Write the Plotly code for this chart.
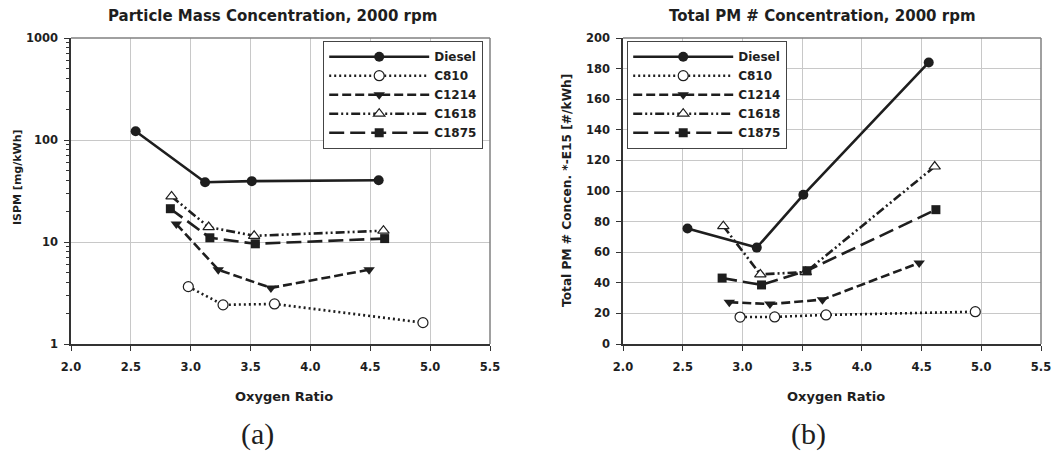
import plotly.graph_objects as go

# ---- data ----
series_names = ["Diesel", "C810", "C1214", "C1618", "C1875"]

# (a) Particle mass concentration [mg/kWh]
a_x = {
    "Diesel": [2.54, 3.12, 3.51, 4.57],
    "C810": [2.98, 3.27, 3.70, 4.94],
    "C1214": [2.88, 3.23, 3.67, 4.49],
    "C1618": [2.84, 3.15, 3.53, 4.61],
    "C1875": [2.83, 3.16, 3.54, 4.62],
}
a_y = {
    "Diesel": [122, 38.5, 39.5, 40.3],
    "C810": [3.65, 2.42, 2.47, 1.62],
    "C1214": [15.0, 5.35, 3.55, 5.35],
    "C1618": [28.0, 14.0, 11.5, 12.9],
    "C1875": [21.2, 11.0, 9.6, 10.8],
}

# (b) Total PM number concentration [*E15 #/kWh]
b_x = {
    "Diesel": [2.54, 3.12, 3.51, 4.56],
    "C810": [2.98, 3.27, 3.70, 4.95],
    "C1214": [2.89, 3.23, 3.67, 4.48],
    "C1618": [2.84, 3.15, 3.53, 4.61],
    "C1875": [2.83, 3.16, 3.54, 4.62],
}
b_y = {
    "Diesel": [75.5, 63.0, 97.5, 184.0],
    "C810": [17.6, 17.7, 19.0, 21.1],
    "C1214": [27.3, 26.1, 29.0, 53.0],
    "C1618": [77.0, 45.5, 47.0, 116.0],
    "C1875": [43.1, 38.6, 47.9, 87.8],
}

x_ticks = [2.0, 2.5, 3.0, 3.5, 4.0, 4.5, 5.0, 5.5]
x_tick_labels = ["2.0", "2.5", "3.0", "3.5", "4.0", "4.5", "5.0", "5.5"]
a_y_ticks = [1, 10, 100, 1000]
a_y_tick_labels = ["1", "10", "100", "1000"]
a_y_minor = [m * 10 ** e for e in range(3) for m in range(2, 10)]
b_y_ticks = list(range(0, 201, 20))

# ---- styles ----
INK = "#1e1e1e"
styles = {
    "Diesel": dict(dash="solid", symbol="circle", open=False, size=10),
    "C810": dict(dash="2px,3px", symbol="circle", open=True, size=10),
    "C1214": dict(dash="9px,4px", symbol="triangle-down", open=False, size=10),
    "C1618": dict(dash="9px,3px,2px,3px,2px,3px", symbol="triangle-up", open=True, size=10),
    "C1875": dict(dash="15px,6px", symbol="square", open=False, size=9),
}

FONT = "DejaVu Sans, Verdana, sans-serif"
SERIF = "Liberation Serif, Times New Roman, serif"

fig = go.Figure()

for xs, ys, xa, ya, lg in [
    (a_x, a_y, "x", "y", "legend"),
    (b_x, b_y, "x2", "y2", "legend2"),
]:
    for name in series_names:
        st = styles[name]
        if st["open"]:
            marker = dict(symbol=st["symbol"], size=st["size"], color="white",
                          line=dict(color=INK, width=1.2))
        else:
            marker = dict(symbol=st["symbol"], size=st["size"], color=INK,
                          line=dict(color=INK, width=0))
        fig.add_trace(go.Scatter(
            x=xs[name], y=ys[name], name=name, mode="lines+markers",
            xaxis=xa, yaxis=ya, legend=lg,
            line=dict(color=INK, width=2.6, dash=st["dash"]),
            marker=marker,
        ))

tickfont = dict(family=FONT, size=11.5, color=INK, weight="bold")
axis_common = dict(
    showline=True, linecolor="#333", linewidth=1.5,
    ticks="outside", ticklen=5, tickcolor="#333", tickwidth=1.2,
    gridcolor="#c8c8c8", gridwidth=1.2, zeroline=False,
    tickfont=tickfont, automargin=False,
)

ybot = (455 - 344) / 455
ytop = (455 - 38) / 455

legend_common = dict(
    xanchor="left", yanchor="top",
    bgcolor="white", bordercolor="#444", borderwidth=1.2,
    font=dict(family=FONT, size=12, color=INK, weight="bold"),
    itemwidth=100, tracegroupgap=0,
)

fig.update_layout(
    width=1061, height=455,
    margin=dict(l=0, r=0, t=0, b=0),
    paper_bgcolor="white", plot_bgcolor="white",
    showlegend=True,
    xaxis=dict(domain=[71 / 1061, 490 / 1061], range=[2.0, 5.5], anchor="y",
               tickmode="array", tickvals=x_ticks, ticktext=x_tick_labels,
               ticklabelstandoff=6, **axis_common),
    yaxis=dict(domain=[ybot, ytop], type="log", range=[0, 3], anchor="x",
               tickmode="array", tickvals=a_y_ticks, ticktext=a_y_tick_labels,
               ticklabelstandoff=4,
               minor=dict(tickmode="array", tickvals=a_y_minor, ticks="outside",
                          ticklen=3, tickcolor="#333", tickwidth=1, showgrid=False),
               **axis_common),
    xaxis2=dict(domain=[623 / 1061, 1041 / 1061], range=[2.0, 5.5], anchor="y2",
                tickmode="array", tickvals=x_ticks, ticktext=x_tick_labels,
                ticklabelstandoff=6, **axis_common),
    yaxis2=dict(domain=[ybot, ytop], range=[0, 200], anchor="x2",
                tickmode="array", tickvals=b_y_ticks, ticklabelstandoff=4,
                **axis_common),
    legend=dict(x=323 / 1061, y=1 - 41 / 455, **legend_common),
    legend2=dict(x=627 / 1061, y=1 - 41 / 455, **legend_common),
)

# gray top/right frame lines
for xr, yr in [("x domain", "y domain"), ("x2 domain", "y2 domain")]:
    fig.add_shape(type="line", xref=xr, yref=yr, x0=0, x1=1, y0=1, y1=1,
                  line=dict(color="#808080", width=1.5))
    fig.add_shape(type="line", xref=xr, yref=yr, x0=1, x1=1, y0=0, y1=1,
                  line=dict(color="#808080", width=1.5))


def ann(text, x, y, size, angle=0, family=FONT, weight="bold"):
    fig.add_annotation(text=text, x=x / 1061, y=1 - y / 455, xref="paper", yref="paper",
                       showarrow=False, textangle=angle, xanchor="center", yanchor="middle",
                       font=dict(family=family, size=size, color=INK, weight=weight))


ann("Particle Mass Concentration, 2000 rpm", 272, 16, 15)
ann("Total PM # Concentration, 2000 rpm", 822, 16, 15)
ann("ISPM [mg/kWh]", 18, 177, 11, angle=-90)
ann("Total PM # Concen. *-E15 [#/kWh]", 567, 191, 12.2, angle=-90)
ann("Oxygen Ratio", 284, 396, 13)
ann("Oxygen Ratio", 836, 396, 13)
ann("(a)", 257, 434, 30, family=SERIF, weight="normal")
ann("(b)", 808, 434, 30, family=SERIF, weight="normal")

fig.write_html(
    "out.html",
    config={"displayModeBar": False},
    post_script="document.body.style.margin='0';document.body.style.overflow='hidden';",
)
